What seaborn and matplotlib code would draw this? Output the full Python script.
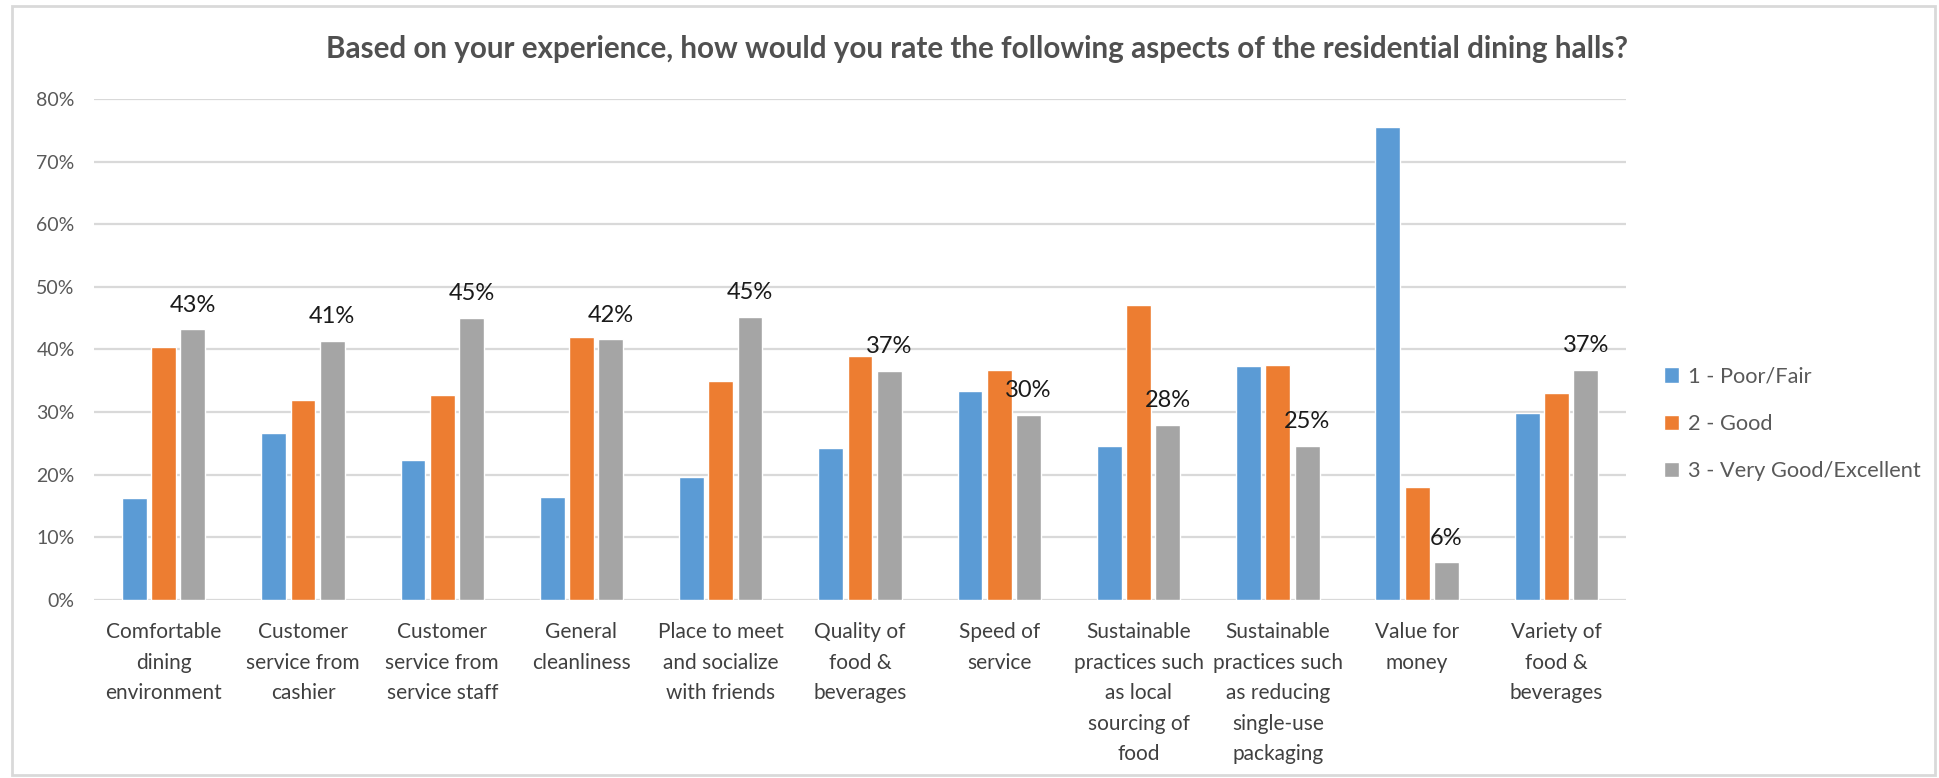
import pandas as pd
import seaborn as sns
import matplotlib.pyplot as plt
from matplotlib.patches import Rectangle

# ------------------------------------------------------------
# DATA
# ------------------------------------------------------------
aspects = [
    "Comfortable\ndining\nenvironment",
    "Customer\nservice from\ncashier",
    "Customer\nservice from\nservice staff",
    "General\ncleanliness",
    "Place to meet\nand socialize\nwith friends",
    "Quality of\nfood &\nbeverages",
    "Speed of\nservice",
    "Sustainable\npractices such\nas local\nsourcing of\nfood",
    "Sustainable\npractices such\nas reducing\nsingle-use\npackaging",
    "Value for\nmoney",
    "Variety of\nfood &\nbeverages",
]
ratings = ["1 - Poor/Fair", "2 - Good", "3 - Very Good/Excellent"]
poor_fair = [0.163, 0.266, 0.223, 0.164, 0.197, 0.242, 0.333, 0.246, 0.374, 0.755, 0.298]
good = [0.404, 0.320, 0.327, 0.420, 0.349, 0.390, 0.368, 0.471, 0.376, 0.181, 0.331]
very_good = [0.432, 0.414, 0.450, 0.416, 0.452, 0.366, 0.296, 0.279, 0.246, 0.060, 0.367]
colors = ["#5B9BD5", "#ED7D31", "#A5A5A5"]

df = pd.DataFrame({
    "aspect": aspects * 3,
    "rating": [r for r in ratings for _ in aspects],
    "pct": poor_fair + good + very_good,
})

# ------------------------------------------------------------
# FIGURE
# ------------------------------------------------------------
sns.set_style("white")
plt.rcParams["font.family"] = ["Lato", "DejaVu Sans"]

fig = plt.figure(figsize=(19.39, 7.78), dpi=100)
ax = fig.add_axes([0.0485, 0.2288, 0.7901, 0.644])

sns.barplot(data=df, x="aspect", y="pct", hue="rating", palette=colors,
            saturation=1, width=0.63, gap=0.15, ax=ax, legend=True)

# labels only on the "very good" series
ax.bar_label(ax.containers[2], labels=[f"{v:.0%}" for v in very_good],
             padding=10, fontsize=17, color="#1a1a1a")

ax.set_ylim(0, 0.8)
ax.set_yticks([i / 10 for i in range(9)])
ax.set_yticklabels([f"{i * 10}%" for i in range(9)])
ax.set_xlim(-0.5, len(aspects) - 0.5)
ax.yaxis.grid(True, color="#D9D9D9", linewidth=1.6)
ax.set_axisbelow(True)
for s in ax.spines.values():
    s.set_visible(False)
ax.tick_params(axis="y", length=0, labelsize=14, labelcolor="#595959", pad=14)
ax.tick_params(axis="x", length=0, labelsize=15, labelcolor="#404040", pad=16)
for t in ax.get_xticklabels():
    t.set_linespacing(1.66)
ax.set_xlabel("")
ax.set_ylabel("")

fig.text(0.504, 0.937,
         "Based on your experience, how would you rate the following aspects of the residential dining halls?",
         ha="center", va="center", fontsize=21.3, fontweight="bold", color="#505050")

ax.legend(loc="center left", bbox_to_anchor=(0.848, 0.455), bbox_transform=fig.transFigure,
          frameon=False, fontsize=15.7, labelcolor="#595959", handlelength=0.7,
          handleheight=0.7, handletextpad=0.4, labelspacing=1.25, title=None)

# chart area border
fig.patches.append(Rectangle((0.006, 0.004), 0.992, 0.988, transform=fig.transFigure,
                             fill=False, edgecolor="#D9D9D9", linewidth=2))

fig.savefig("out.png", dpi=100)
